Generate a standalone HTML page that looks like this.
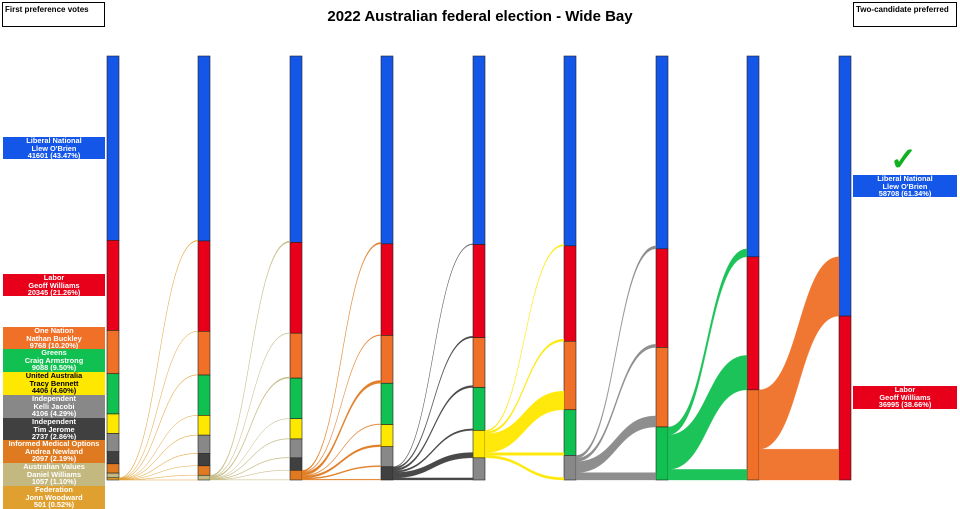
<!DOCTYPE html>
<html><head><meta charset="utf-8"><style>
body{margin:0;background:#fff;width:960px;height:509px;overflow:hidden;font-family:"Liberation Sans",sans-serif}
svg{position:absolute;left:0;top:0}
.lab{position:absolute;left:3px;width:102px;text-align:center;color:#fff;font-size:7.4px;font-weight:bold;line-height:7.6px;overflow:hidden}
.rl{position:absolute;left:853px;width:104px;text-align:center;color:#fff;font-size:7.4px;font-weight:bold;line-height:7.6px}
.box{position:absolute;top:2px;height:25px;border:1px solid #000;font-size:8px;font-weight:bold;padding:2px;box-sizing:border-box}
</style></head><body>
<svg id="s" width="960" height="509"></svg>
<div class="box" style="left:2px;width:103px">First preference votes</div>
<div class="box" style="left:853px;width:104px">Two-candidate preferred</div>
<div style="position:absolute;left:0;width:960px;top:8px;text-align:center;font-size:15px;font-weight:bold">2022 Australian federal election - Wide Bay</div>
<div class="lab" style="top:137px;height:22px;background:#1456e8">Liberal National<br>Llew O'Brien<br>41601 (43.47%)</div>
<div class="lab" style="top:274px;height:22px;background:#e8001a">Labor<br>Geoff Williams<br>20345 (21.26%)</div>
<div class="lab" style="top:327px;height:22px;background:#f07028">One Nation<br>Nathan Buckley<br>9768 (10.20%)</div>
<div class="lab" style="top:349px;height:23px;background:#10c050">Greens<br>Craig Armstrong<br>9088 (9.50%)</div>
<div class="lab" style="top:372px;height:23px;background:#ffe800;color:#000">United Australia<br>Tracy Bennett<br>4406 (4.60%)</div>
<div class="lab" style="top:395px;height:23px;background:#888">Independent<br>Kelli Jacobi<br>4106 (4.29%)</div>
<div class="lab" style="top:418px;height:22px;background:#404040">Independent<br>Tim Jerome<br>2737 (2.86%)</div>
<div class="lab" style="top:440px;height:23px;background:#e07a20">Informed Medical Options<br>Andrea Newland<br>2097 (2.19%)</div>
<div class="lab" style="top:463px;height:23px;background:#c2b880">Australian Values<br>Daniel Williams<br>1057 (1.10%)</div>
<div class="lab" style="top:486px;height:23px;background:#e0a030">Federation<br>Jonn Woodward<br>501 (0.52%)</div>
<div style="position:absolute;left:890px;top:143px;font-size:32px;line-height:32px;color:#10b020;font-weight:bold">✓</div>
<div class="rl" style="top:175px;height:22px;background:#1456e8">Liberal National<br>Llew O'Brien<br>58708 (61.34%)</div>
<div class="rl" style="top:386px;height:23px;background:#e8001a">Labor<br>Geoff Williams<br>36995 (38.66%)</div>
<script>
var C=['#1456e8','#e8001a','#f07028','#10c050','#ffe800','#888888','#404040','#e07a20','#c2b880','#e0a030'];
var v=[41601,20345,9768,9088,4406,4106,2737,2097,1057,501];
var T=v.reduce((a,b)=>a+b,0);var k=424/T,top0=56;
var X=[107,198,290,381,473,564,656,747,839],W=12;
var elim=[9,8,7,6,4,5,3,2];
var F={9:[.3,.1,.2,.05,.1,.1,.05,.08,.02],8:[.3,.1,.25,.05,.1,.1,.05,.05],7:[.15,.08,.3,.07,.2,.12,.08],
6:[.05,.12,.15,.12,.4,.16],4:[.05,.08,.68,.1,0,.09],5:[.12,.13,.45,.3],3:[.15,.65,.2],2:[0,0]};
var s='';var alive=[0,1,2,3,4,5,6,7,8,9];
function bar(x){var y=top0;var pos={};alive.forEach(i=>{var h=v[i]*k;s+=`<rect x="${x}" y="${y}" width="${W}" height="${h}" fill="${C[i]}" stroke="#222" stroke-width="0.6"/>`;pos[i]=[y,h];y+=h});return pos}
var p=bar(X[0]);
for(var r=0;r<8;r++){
 var e=elim[r],tot=v[e],f=F[e].slice();
 if(e==2){f[0]=(58708-v[0])/tot;f[1]=1-f[0];}
 var sum=f.reduce((a,b)=>a+b,0);
 var old=v.slice();
 alive=alive.filter(i=>i!=e);
 alive.forEach(i=>{v[i]+=tot*(f[i]||0)/sum});v[e]=0;
 var q=bar(X[r+1]);
 var sy=p[e][0],x1=X[r]+W,x2=X[r+1],mx=(x1+x2)/2;
 alive.forEach(i=>{var a=tot*(f[i]||0)/sum*k;if(a<=0)return;
  var ty=q[i][0]+old[i]*k;
  s+=`<path d="M${x1},${sy}C${mx},${sy} ${mx},${ty} ${x2},${ty}L${x2},${ty+a}C${mx},${ty+a} ${mx},${sy+a} ${x1},${sy+a}Z" fill="${C[e]}" stroke="${C[e]}" stroke-width="0.3" opacity="0.95"/>`;
  sy+=a});
 p=q;
}
document.getElementById('s').innerHTML=s;
</script>
</body></html>
